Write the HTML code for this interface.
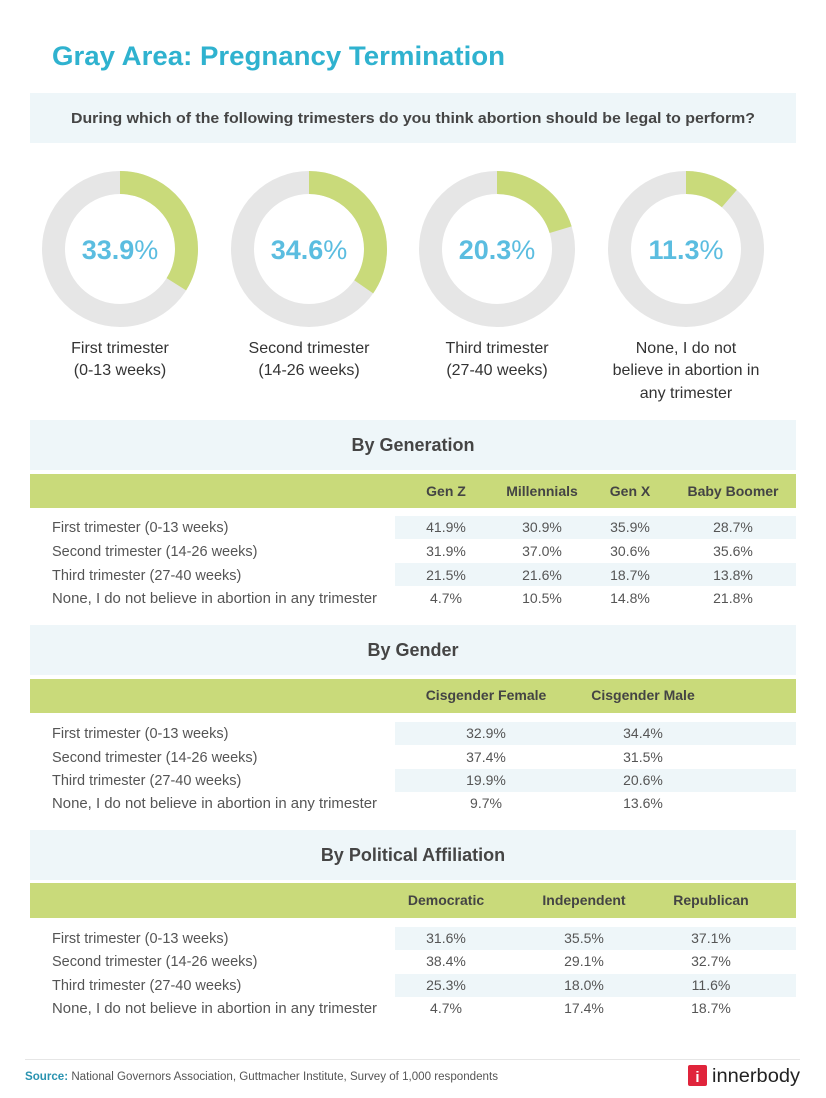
<!DOCTYPE html>
<html><head><meta charset="utf-8"><style>
html,body{margin:0;padding:0;background:#fff}
svg{display:block}
text{font-family:"Liberation Sans",sans-serif}
</style></head><body>
<svg width="826" height="1098" viewBox="0 0 826 1098" xmlns="http://www.w3.org/2000/svg">
<rect width="826" height="1098" fill="#fff"/>
<text x="52" y="65" font-size="27" font-weight="bold" fill="#2fb2cf" textLength="453" lengthAdjust="spacingAndGlyphs">Gray Area: Pregnancy Termination</text>
<rect x="30" y="93" width="766" height="50" fill="#eef6f9"/>
<text x="413" y="123" font-size="14.5" font-weight="bold" fill="#454545" text-anchor="middle" textLength="684" lengthAdjust="spacingAndGlyphs">During which of the following trimesters do you think abortion should be legal to perform?</text>

<g fill="none" stroke-width="23">
<circle cx="120" cy="249" r="66.5" stroke="#e6e6e6"/>
<circle cx="120" cy="249" r="66.5" stroke="#c9da7a" stroke-dasharray="141.6 1000" transform="rotate(-90 120 249)"/>
<circle cx="309" cy="249" r="66.5" stroke="#e6e6e6"/>
<circle cx="309" cy="249" r="66.5" stroke="#c9da7a" stroke-dasharray="144.6 1000" transform="rotate(-90 309 249)"/>
<circle cx="497" cy="249" r="66.5" stroke="#e6e6e6"/>
<circle cx="497" cy="249" r="66.5" stroke="#c9da7a" stroke-dasharray="84.8 1000" transform="rotate(-90 497 249)"/>
<circle cx="686" cy="249" r="66.5" stroke="#e6e6e6"/>
<circle cx="686" cy="249" r="66.5" stroke="#c9da7a" stroke-dasharray="47.2 1000" transform="rotate(-90 686 249)"/>
</g>
<g font-size="27" fill="#5bbde0" text-anchor="middle">
<text x="120" y="259"><tspan font-weight="bold">33.9</tspan><tspan font-weight="normal">%</tspan></text>
<text x="309" y="259"><tspan font-weight="bold">34.6</tspan><tspan font-weight="normal">%</tspan></text>
<text x="497" y="259"><tspan font-weight="bold">20.3</tspan><tspan font-weight="normal">%</tspan></text>
<text x="686" y="259"><tspan font-weight="bold">11.3</tspan><tspan font-weight="normal">%</tspan></text>
</g>
<g font-size="16" fill="#333" text-anchor="middle">
<text x="120" y="353">First trimester</text><text x="120" y="375">(0-13 weeks)</text>
<text x="309" y="353">Second trimester</text><text x="309" y="375">(14-26 weeks)</text>
<text x="497" y="353">Third trimester</text><text x="497" y="375">(27-40 weeks)</text>
<text x="686" y="353">None, I do not</text><text x="686" y="375">believe in abortion in</text><text x="686" y="398">any trimester</text>
</g>

<!-- Generation -->
<rect x="30" y="420" width="766" height="50" fill="#eef6f9"/>
<text x="413" y="451" font-size="18" font-weight="bold" fill="#454545" text-anchor="middle">By Generation</text>
<rect x="30" y="474" width="766" height="34" fill="#c9da7a"/>
<g font-size="14" font-weight="bold" fill="#444" text-anchor="middle">
<text x="446" y="496">Gen Z</text><text x="542" y="496">Millennials</text><text x="630" y="496">Gen X</text><text x="733" y="496">Baby Boomer</text>
</g>
<rect x="395" y="516" width="401" height="23" fill="#eef6f9"/>
<rect x="395" y="563" width="401" height="23" fill="#eef6f9"/>
<g font-size="14.5" fill="#555">
<text x="52" y="532">First trimester (0-13 weeks)</text>
<text x="52" y="556">Second trimester (14-26 weeks)</text>
<text x="52" y="580">Third trimester (27-40 weeks)</text>
<text x="52" y="603" textLength="325" lengthAdjust="spacingAndGlyphs">None, I do not believe in abortion in any trimester</text>
</g>
<g font-size="14" fill="#555" text-anchor="middle">
<text x="446" y="532">41.9%</text><text x="542" y="532">30.9%</text><text x="630" y="532">35.9%</text><text x="733" y="532">28.7%</text>
<text x="446" y="556">31.9%</text><text x="542" y="556">37.0%</text><text x="630" y="556">30.6%</text><text x="733" y="556">35.6%</text>
<text x="446" y="580">21.5%</text><text x="542" y="580">21.6%</text><text x="630" y="580">18.7%</text><text x="733" y="580">13.8%</text>
<text x="446" y="603">4.7%</text><text x="542" y="603">10.5%</text><text x="630" y="603">14.8%</text><text x="733" y="603">21.8%</text>
</g>

<!-- Gender -->
<rect x="30" y="625" width="766" height="50" fill="#eef6f9"/>
<text x="413" y="656" font-size="18" font-weight="bold" fill="#454545" text-anchor="middle">By Gender</text>
<rect x="30" y="679" width="766" height="34" fill="#c9da7a"/>
<g font-size="14" font-weight="bold" fill="#444" text-anchor="middle">
<text x="486" y="700">Cisgender Female</text><text x="643" y="700">Cisgender Male</text>
</g>
<rect x="395" y="722" width="401" height="23" fill="#eef6f9"/>
<rect x="395" y="769" width="401" height="23" fill="#eef6f9"/>
<g font-size="14.5" fill="#555">
<text x="52" y="738">First trimester (0-13 weeks)</text>
<text x="52" y="762">Second trimester (14-26 weeks)</text>
<text x="52" y="785">Third trimester (27-40 weeks)</text>
<text x="52" y="808" textLength="325" lengthAdjust="spacingAndGlyphs">None, I do not believe in abortion in any trimester</text>
</g>
<g font-size="14" fill="#555" text-anchor="middle">
<text x="486" y="738">32.9%</text><text x="643" y="738">34.4%</text>
<text x="486" y="762">37.4%</text><text x="643" y="762">31.5%</text>
<text x="486" y="785">19.9%</text><text x="643" y="785">20.6%</text>
<text x="486" y="808">9.7%</text><text x="643" y="808">13.6%</text>
</g>

<!-- Political -->
<rect x="30" y="830" width="766" height="50" fill="#eef6f9"/>
<text x="413" y="861" font-size="18" font-weight="bold" fill="#454545" text-anchor="middle">By Political Affiliation</text>
<rect x="30" y="883" width="766" height="35" fill="#c9da7a"/>
<g font-size="14" font-weight="bold" fill="#444" text-anchor="middle">
<text x="446" y="905">Democratic</text><text x="584" y="905">Independent</text><text x="711" y="905">Republican</text>
</g>
<rect x="395" y="927" width="401" height="23" fill="#eef6f9"/>
<rect x="395" y="974" width="401" height="23" fill="#eef6f9"/>
<g font-size="14.5" fill="#555">
<text x="52" y="943">First trimester (0-13 weeks)</text>
<text x="52" y="966">Second trimester (14-26 weeks)</text>
<text x="52" y="990">Third trimester (27-40 weeks)</text>
<text x="52" y="1013" textLength="325" lengthAdjust="spacingAndGlyphs">None, I do not believe in abortion in any trimester</text>
</g>
<g font-size="14" fill="#555" text-anchor="middle">
<text x="446" y="943">31.6%</text><text x="584" y="943">35.5%</text><text x="711" y="943">37.1%</text>
<text x="446" y="966">38.4%</text><text x="584" y="966">29.1%</text><text x="711" y="966">32.7%</text>
<text x="446" y="990">25.3%</text><text x="584" y="990">18.0%</text><text x="711" y="990">11.6%</text>
<text x="446" y="1013">4.7%</text><text x="584" y="1013">17.4%</text><text x="711" y="1013">18.7%</text>
</g>

<!-- Footer -->
<line x1="25" y1="1059.5" x2="800" y2="1059.5" stroke="#e6e6e6" stroke-width="1"/>
<text x="25" y="1080" font-size="11.5" fill="#555" textLength="473" lengthAdjust="spacingAndGlyphs"><tspan fill="#2a93b0" font-weight="bold">Source:</tspan> National Governors Association, Guttmacher Institute, Survey of 1,000 respondents</text>
<rect x="688" y="1065" width="19" height="21" rx="2" fill="#e0243b"/>
<text x="697.5" y="1082" font-size="15" font-weight="bold" fill="#fff" text-anchor="middle">i</text>
<text x="712" y="1082" font-size="19" fill="#222" textLength="88" lengthAdjust="spacingAndGlyphs">innerbody</text>
</svg>
</body></html>
